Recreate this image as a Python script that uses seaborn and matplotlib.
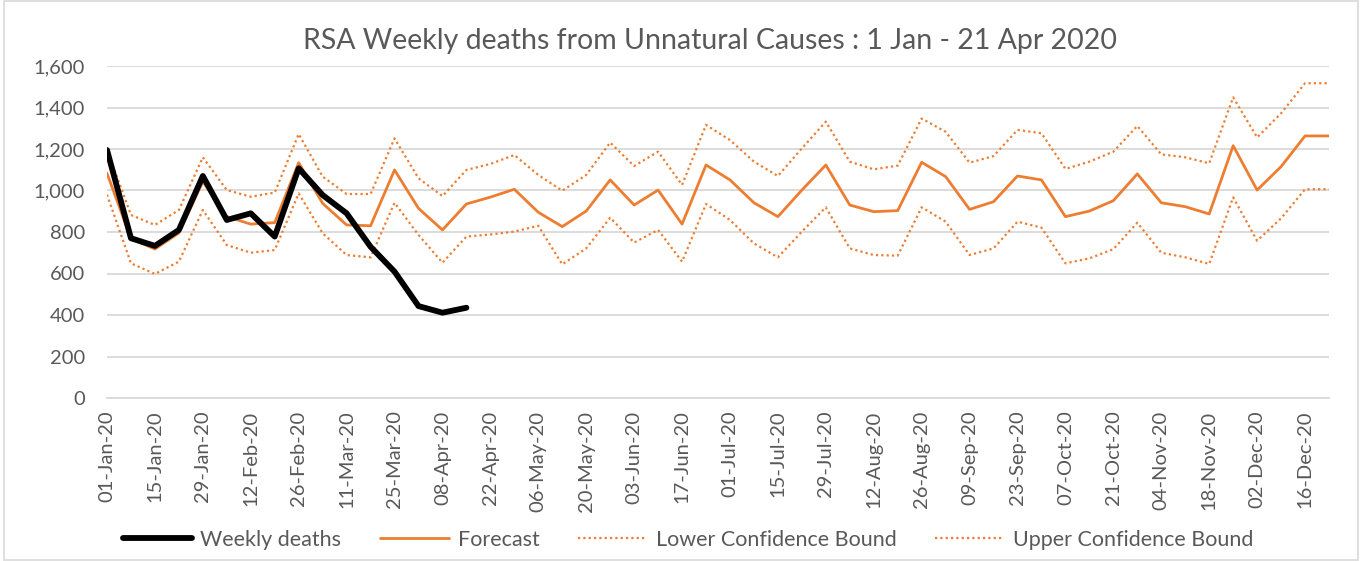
import numpy as np
import pandas as pd
import matplotlib
matplotlib.use("Agg")
import matplotlib.pyplot as plt
import seaborn as sns

# ---- data ----
start_date = "2020-01-01"
n_weeks = 52

weekly_deaths = [1195, 770, 733, 810, 1070, 858, 890, 778, 1107, 978, 890, 729, 609, 443, 411, 435]

forecast = [1083, 768, 718, 795, 1043, 874, 838, 845, 1134, 938, 834, 830, 1099, 914, 810, 935,
            968, 1006, 895, 826, 901, 1051, 930, 1002, 838, 1123, 1051, 941, 874, 1002, 1123, 930,
            898, 903, 1136, 1067, 909, 946, 1070, 1051, 874, 901, 951, 1080, 941, 922, 887, 1216,
            1002, 1115, 1263, 1263]

upper = [1195, 882, 834, 906, 1160, 1002, 970, 990, 1272, 1067, 983, 983, 1251, 1059, 973, 1099,
         1128, 1171, 1075, 999, 1075, 1231, 1118, 1187, 1027, 1316, 1243, 1139, 1070, 1203, 1332, 1139,
         1102, 1120, 1347, 1283, 1134, 1166, 1292, 1276, 1104, 1139, 1187, 1311, 1174, 1160, 1131, 1449,
         1256, 1372, 1517, 1517]

lower = [980, 649, 598, 657, 906, 737, 700, 713, 986, 794, 689, 678, 941, 786, 652, 778,
         788, 802, 830, 644, 721, 869, 749, 810, 657, 935, 858, 745, 678, 802, 919, 721,
         689, 686, 919, 850, 689, 721, 850, 821, 649, 673, 717, 845, 700, 678, 646, 967,
         758, 866, 1006, 1006]

title = "RSA Weekly deaths from Unnatural Causes : 1 Jan - 21 Apr 2020"
y_ticks = [0, 200, 400, 600, 800, 1000, 1200, 1400, 1600]

# ---- build frames ----
dates = pd.date_range(start_date, periods=n_weeks, freq="7D")
week_idx = np.arange(n_weeks)
df_fc = pd.DataFrame({"week": week_idx, "Forecast": forecast,
                      "Lower": lower, "Upper": upper})
df_wd = pd.DataFrame({"week": week_idx[:len(weekly_deaths)], "Weekly deaths": weekly_deaths})

sns.set_theme(style="white")
plt.rcParams["font.family"] = ["Lato", "DejaVu Sans"]

orange = "#ED7D31"
txt = "#595959"
grid = "#D9D9D9"

fig = plt.figure(figsize=(13.64, 5.61), dpi=100)
ax = fig.add_axes([107/1364, 1-398/561, (1329-107)/1364, (398-66)/561])

sns.lineplot(data=df_fc, x="week", y="Lower", ax=ax, color=orange, lw=1.6,
             linestyle=(0, (1, 1.4)), label="Lower Confidence Bound")
sns.lineplot(data=df_fc, x="week", y="Upper", ax=ax, color=orange, lw=1.6,
             linestyle=(0, (1, 1.4)), label="Upper Confidence Bound")
sns.lineplot(data=df_fc, x="week", y="Forecast", ax=ax, color=orange, lw=2.0,
             label="Forecast")
sns.lineplot(data=df_wd, x="week", y="Weekly deaths", ax=ax, color="black", lw=4.2,
             label="Weekly deaths", zorder=5)

ax.set_xlim(0, n_weeks - 1)
ax.set_ylim(0, 1600)
ax.set_yticks(y_ticks)
ax.set_yticklabels([f"{v:,}" for v in y_ticks])
tick_pos = week_idx[::2]
ax.set_xticks(tick_pos)
ax.set_xticklabels([dates[i].strftime("%d-%b-%y") for i in tick_pos], rotation=90)
ax.tick_params(axis="both", colors=txt, labelsize=14.5, length=0)
ax.tick_params(axis="y", pad=16)
ax.tick_params(axis="x", pad=9)
ax.set_xlabel("")
ax.set_ylabel("")
ax.grid(axis="y", color=grid, lw=1.3)
ax.set_axisbelow(True)
for s in ["top", "right", "left"]:
    ax.spines[s].set_visible(False)
ax.spines["bottom"].set_color(grid)
ax.spines["bottom"].set_linewidth(1.3)

fig.suptitle(title, x=710/1364, y=1-41/561, va="center", fontsize=20.5, color=txt)

handles, labels = ax.get_legend_handles_labels()
order = ["Weekly deaths", "Forecast", "Lower Confidence Bound", "Upper Confidence Bound"]
hmap = dict(zip(labels, handles))
ax.get_legend().remove()
fig.legend([hmap[k] for k in order], order, loc="center", ncol=4, frameon=False,
           bbox_to_anchor=(688/1364, 1-540/561), fontsize=15.5, labelcolor=txt,
           handlelength=3.2, columnspacing=1.8, handletextpad=0.4)

fig.patches.append(plt.Rectangle((4/1364, 0.002), 1354/1364, 0.996, transform=fig.transFigure,
                                 fill=False, edgecolor=grid, lw=1.2))

fig.savefig("out.png", dpi=100)
